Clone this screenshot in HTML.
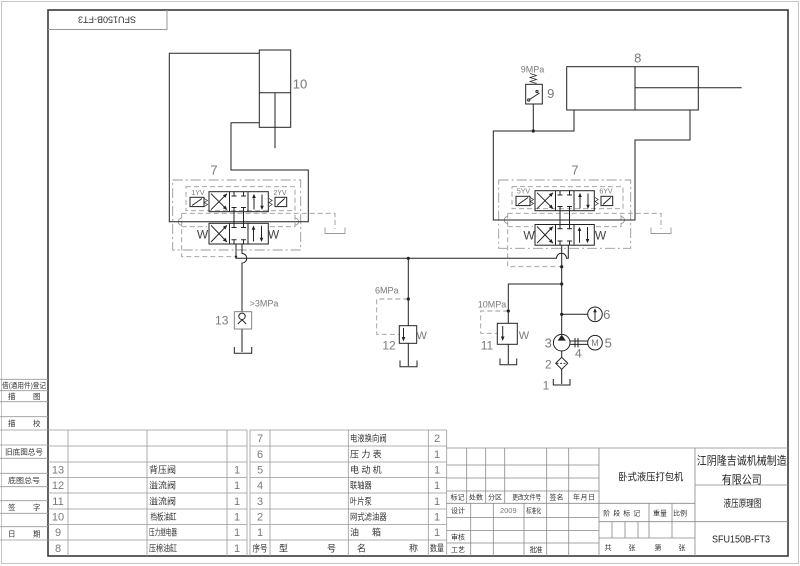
<!DOCTYPE html>
<html><head><meta charset="utf-8"><style>
html,body{margin:0;padding:0;background:#fff}
svg{display:block}
text{font-family:"Liberation Sans Narrow","Liberation Sans",sans-serif}
.g{fill:#7a7a7a}
.k{fill:#333}
.c{font-family:"Liberation Serif","Noto Serif CJK SC",serif;fill:#333}
</style></head><body>
<svg width="800" height="566" viewBox="0 0 800 566" xmlns="http://www.w3.org/2000/svg">
<rect x="0" y="0" width="800" height="566" fill="#fff"/>
<rect x="1.5" y="1.5" width="797" height="562" fill="none" stroke="#c4c4c4" stroke-width="1"/>
<rect x="48" y="10" width="740" height="546" fill="none" stroke="#3a3a3a" stroke-width="1.6"/>
<path d="M48,29.5 H167 V10" fill="none" stroke="#999"/>
<text x="107" y="22.7" transform="rotate(180 107 19.5)" text-anchor="middle" font-size="9" class="k">SFU150B-FT3</text>

<!-- left margin table -->
<path d="M0,379.3H48 M0,390.7H48 M0,401.7H48 M0,416.7H48 M0,430H48 M0,445H48 M0,458.3H48 M0,473.3H48 M0,486.7H48 M0,500.7H48 M0,513.3H48 M0,526.7H48 M0,540H48" stroke="#999" stroke-width="0.8" fill="none"/>
<g class="c" font-size="7.5">
<text x="2" y="387.8" textLength="44" lengthAdjust="spacingAndGlyphs">借(通用件)登记</text>
<text x="8" y="398.8">描</text><text x="33" y="398.8">图</text>
<text x="8" y="426">描</text><text x="33" y="426">校</text>
<text x="5" y="454.5" textLength="38" lengthAdjust="spacingAndGlyphs">旧底图总号</text>
<text x="8" y="482.8" textLength="32" lengthAdjust="spacingAndGlyphs">底图总号</text>
<text x="8" y="509.8">签</text><text x="33" y="509.8">字</text>
<text x="8" y="536.5">日</text><text x="33" y="536.5">期</text>
</g>

<!-- parts tables -->
<g stroke="#999" stroke-width="0.8" fill="none">
<path d="M48,430H247 M48,446H247 M48,462H247 M48,477.5H247 M48,493H247 M48,509H247 M48,524.5H247 M48,540H247"/>
<path d="M250,430H446.7 M250,446H446.7 M250,462H446.7 M250,477.5H446.7 M250,493H446.7 M250,509H446.7 M250,524.5H446.7 M250,540H446.7"/>
<path d="M68,430V556 M147,430V556 M227,430V556 M247,430V556 M250,430V556 M270,430V556 M348.3,430V556 M428.3,430V556 M446.7,430V556"/>
</g>
<g class="g" font-size="11" text-anchor="middle">
<text x="58" y="473.7">13</text><text x="58" y="489.2">12</text><text x="58" y="505">11</text>
<text x="58" y="520.7">10</text><text x="58" y="536.2">9</text><text x="58" y="552">8</text>
<text x="237" y="473.7">1</text><text x="237" y="489.2">1</text><text x="237" y="505">1</text>
<text x="237" y="520.7">1</text><text x="237" y="536.2">1</text><text x="237" y="552">1</text>
<text x="260" y="442">7</text><text x="260" y="458">6</text><text x="260" y="473.7">5</text>
<text x="260" y="489.2">4</text><text x="260" y="505">3</text><text x="260" y="520.7">2</text><text x="260" y="536.2">1</text>
<text x="437" y="442">2</text><text x="437" y="458">1</text><text x="437" y="473.7">1</text>
<text x="437" y="489.2">1</text><text x="437" y="505">1</text><text x="437" y="520.7">1</text><text x="437" y="536.2">1</text>
</g>
<g class="c" font-size="9">
<text x="149" y="473" textLength="27">背压阀</text>
<text x="149" y="488.5" textLength="27">溢流阀</text>
<text x="149" y="504.3" textLength="27">溢流阀</text>
<text x="150.5" y="520" textLength="26" lengthAdjust="spacingAndGlyphs">档板油缸</text>
<text x="149" y="535.5" textLength="28" lengthAdjust="spacingAndGlyphs">压力继电器</text>
<text x="149" y="551.3" textLength="28" lengthAdjust="spacingAndGlyphs">压棉油缸</text>
<text x="350" y="441.3" textLength="36.7" lengthAdjust="spacingAndGlyphs">电液换向阀</text>
<text x="350" y="457.3" textLength="31.7">压力表</text>
<text x="350" y="473" textLength="31.7">电动机</text>
<text x="350" y="488.5" textLength="21.7" lengthAdjust="spacingAndGlyphs">联轴器</text>
<text x="350" y="504.3" textLength="21.7" lengthAdjust="spacingAndGlyphs">叶片泵</text>
<text x="350" y="520" textLength="36.7" lengthAdjust="spacingAndGlyphs">网式滤油器</text>
<text x="350" y="535.5">油</text><text x="372" y="535.5">箱</text>
<text x="252.5" y="551.3" textLength="15" lengthAdjust="spacingAndGlyphs">序号</text>
<text x="279" y="551.3">型</text><text x="327" y="551.3">号</text>
<text x="357" y="551.3">名</text><text x="409" y="551.3">称</text>
<text x="430" y="551.3" textLength="14" lengthAdjust="spacingAndGlyphs">数量</text>
</g>

<!-- title block -->
<g stroke="#888" stroke-width="0.8" fill="none">
<path d="M446.7,448H788"/>
<path d="M446.7,465H599 M446.7,478H599 M446.7,491H599 M446.7,503.3H695 M446.7,517.5H599 M446.7,530.5H599 M446.7,543H599"/>
<path d="M466.7,448V503.3 M485.7,448V503.3 M504.7,448V503.3 M470.7,503.3V556 M493.3,503.3V556 M524,503.3V556 M546.7,448V556 M568.7,448V556 M599,448V556 M695,448V556"/>
<path d="M599,521.7H695 M599,538H695 M649,503.3V538 M672,503.3V538 M612,521.7V538 M625,521.7V538 M638,521.7V538"/>
<path d="M695,485H788 M695,521.7H788"/>
</g>
<g class="c" font-size="7" text-anchor="middle">
<text x="457.5" y="499.6" textLength="14">标记</text>
<text x="476" y="499.6" textLength="14">处数</text>
<text x="495" y="499.6" textLength="14">分区</text>
<text x="526.7" y="499.6" textLength="29" lengthAdjust="spacingAndGlyphs">更改文件号</text>
<text x="556.5" y="499.6" textLength="14">签名</text>
<text x="584" y="499.6" textLength="22">年月日</text>
<text x="458" y="513" textLength="14">设计</text>
<text x="533.8" y="513" textLength="15" lengthAdjust="spacingAndGlyphs">标准化</text>
<text x="458" y="539.4" textLength="14">审核</text>
<text x="458" y="552.1" textLength="14">工艺</text>
<text x="536" y="552.1" textLength="13">批准</text>
<text x="621.7" y="515.6" textLength="37">阶段标记</text>
<text x="660" y="515.6" textLength="14">重量</text>
<text x="680" y="515.6" textLength="14">比例</text>
<text x="608" y="550">共</text><text x="632" y="550">张</text>
<text x="658" y="550">第</text><text x="682" y="550">张</text>
</g>
<text x="508.3" y="513" font-size="7.5" class="g" text-anchor="middle">2009</text>
<g class="c" text-anchor="middle" style="fill:#222">
<text x="650.8" y="480.7" font-size="10" textLength="65" lengthAdjust="spacingAndGlyphs">卧式液压打包机</text>
<text x="741.7" y="464.3" font-size="11.5" textLength="90" lengthAdjust="spacingAndGlyphs">江阴隆吉诚机械制造</text>
<text x="741.7" y="483.3" font-size="11.5" textLength="40" lengthAdjust="spacingAndGlyphs">有限公司</text>
<text x="742.5" y="507.2" font-size="10" textLength="38" lengthAdjust="spacingAndGlyphs">液压原理图</text>
<text x="741" y="542.6" font-size="10" textLength="58" lengthAdjust="spacingAndGlyphs">SFU150B-FT3</text>
</g>

<!-- ===== VALVE LEFT ===== -->
<g id="valveL">
<g fill="none" stroke="#9a9a9a" stroke-width="0.9">
 <rect x="172.7" y="180" width="128" height="70" stroke-dasharray="10 3 2 3"/>
 <rect x="186" y="186.7" width="109" height="24" stroke-dasharray="5 3"/>
 <path d="M181.7,213.3 H335 V229" stroke-dasharray="5 3"/>
 <path d="M181.7,226.7 H207 M270,226.7 H295 V213.3" stroke-dasharray="5 3"/>
 <path d="M325,227.5 V233.5 H345 V227.5"/>
</g>
<g fill="none" stroke="#222" stroke-width="1">
 <rect x="190" y="197.3" width="14" height="9.3"/>
 <path d="M192,205.5 L202,198.5"/>
 <path d="M204.3,198.5 L207.5,200.5 L204.3,202.5 L207.5,204.5 L204.3,206.5" stroke-width="0.7"/>
 <rect x="209" y="191.7" width="59.3" height="20"/>
 <path d="M229.5,191.7V211.7 M248,191.7V211.7"/>
 <path d="M211,193.7 L227,209.7 M211,209.7 L227,193.7"/>
 <path d="M234,191.7V196 M231.5,196H236.5 M243.5,191.7V196 M241,196H246 M234,211.7V207.5 M231.5,207.5H236.5 M243.5,211.7V207.5 M241,207.5H246"/>
 <path d="M254,209.5V196 M262,194.5V208"/>
 <path d="M269,198.5 L272.2,200.5 L269,202.5 L272.2,204.5 L269,206.5" stroke-width="0.7"/>
 <rect x="275" y="197.3" width="11.7" height="9.3"/>
 <path d="M277,205.5 L284.7,198.5"/>
 <path d="M234,211.7V223.3 M243.5,211.7V223.3"/>
 <rect x="209" y="223.3" width="59.3" height="20.7"/>
 <path d="M229.5,223.3V244 M248,223.3V244"/>
 <path d="M211,225.3 L227,242 M211,242 L227,225.3"/>
 <path d="M234,223.3V227.5 M231.5,227.5H236.5 M243.5,223.3V227.5 M241,227.5H246 M234,244V239.8 M231.5,239.8H236.5 M243.5,244V239.8 M241,239.8H246"/>
 <path d="M253.5,241.5V227.5 M261.5,225.8V240"/>
</g>
<g fill="#222">
 <polygon points="227,193.7 225.6,197.9 222.8,195.1"/>
 <polygon points="227,209.7 225.6,205.5 222.8,208.3"/>
 <polygon points="254,193.8 252.2,198 255.8,198"/>
 <polygon points="262,210 260.2,205.8 263.8,205.8"/>
 <polygon points="227,225.3 225.6,229.5 222.8,226.7"/>
 <polygon points="227,242 225.6,237.8 222.8,240.6"/>
 <polygon points="253.5,225.5 251.7,229.7 255.3,229.7"/>
 <polygon points="261.5,242 259.7,237.8 263.3,237.8"/>
</g>
<text x="202.5" y="238.3" font-size="12" text-anchor="middle" fill="#444">W</text>
<text x="273.5" y="238.3" font-size="12" text-anchor="middle" fill="#444">W</text>
</g>
<text x="198" y="194.8" font-size="7" class="g" text-anchor="middle">1YV</text>
<text x="280" y="194.8" font-size="7" class="g" text-anchor="middle">2YV</text>
<text x="214" y="174.7" font-size="13" class="g" text-anchor="middle">7</text>

<!-- ===== VALVE RIGHT ===== -->
<g transform="translate(326,0)">
<g fill="none" stroke="#9a9a9a" stroke-width="0.9">
 <rect x="172.7" y="180" width="132" height="68.3" stroke-dasharray="10 3 2 3"/>
 <rect x="186" y="186.7" width="111" height="22" stroke-dasharray="5 3"/>
 <path d="M181.7,213.3 H335 V229" stroke-dasharray="5 3"/>
 <path d="M181.7,226.7 H207 M270,226.7 H295 V213.3" stroke-dasharray="5 3"/>
 <path d="M325,227.5 V233.5 H345 V227.5"/>
</g>
<g fill="none" stroke="#222" stroke-width="1">
 <rect x="190" y="196.3" width="14" height="9.3"/>
 <path d="M192,204.5 L202,197.5"/>
 <path d="M204.3,197.5 L207.5,199.5 L204.3,201.5 L207.5,203.5 L204.3,205.5" stroke-width="0.7"/>
 <rect x="209" y="190.7" width="59.3" height="20"/>
 <path d="M229.5,190.7V210.7 M248,190.7V210.7"/>
 <path d="M211,192.7 L227,208.7 M211,208.7 L227,192.7"/>
 <path d="M234,190.7V195 M231.5,195H236.5 M243.5,190.7V195 M241,195H246 M234,210.7V206.5 M231.5,206.5H236.5 M243.5,210.7V206.5 M241,206.5H246"/>
 <path d="M254,208.5V195 M262,193.5V207"/>
 <path d="M269,197.5 L272.2,199.5 L269,201.5 L272.2,203.5 L269,205.5" stroke-width="0.7"/>
 <rect x="275" y="196.3" width="11.7" height="9.3"/>
 <path d="M277,204.5 L284.7,197.5"/>
 <path d="M234,210.7V224.5 M243.5,210.7V224.5"/>
 <rect x="209" y="224.5" width="59.3" height="20.7"/>
 <path d="M229.5,224.5V245.2 M248,224.5V245.2"/>
 <path d="M211,226.5 L227,243.2 M211,243.2 L227,226.5"/>
 <path d="M234,224.5V228.7 M231.5,228.7H236.5 M243.5,224.5V228.7 M241,228.7H246 M234,245.2V241 M231.5,241H236.5 M243.5,245.2V241 M241,241H246"/>
 <path d="M253.5,242.7V228.7 M261.5,227V241.2"/>
</g>
<g fill="#222">
 <polygon points="227,192.7 225.6,196.9 222.8,194.1"/>
 <polygon points="227,208.7 225.6,204.5 222.8,207.3"/>
 <polygon points="254,192.8 252.2,197 255.8,197"/>
 <polygon points="262,209 260.2,204.8 263.8,204.8"/>
 <polygon points="227,226.5 225.6,230.7 222.8,227.9"/>
 <polygon points="227,243.2 225.6,239 222.8,241.8"/>
 <polygon points="253.5,226.7 251.7,230.9 255.3,230.9"/>
 <polygon points="261.5,243.2 259.7,239 263.3,239"/>
</g>
<text x="203" y="239.5" font-size="12" text-anchor="middle" fill="#444">W</text>
<text x="274.5" y="239.5" font-size="12" text-anchor="middle" fill="#444">W</text>
</g>
<text x="523.5" y="193.5" font-size="7" class="g" text-anchor="middle">5YV</text>
<text x="606" y="193.5" font-size="7" class="g" text-anchor="middle">6YV</text>
<text x="575" y="174.7" font-size="13" class="g" text-anchor="middle">7</text>

<!-- dashed pilot bottoms & hops -->
<g fill="none" stroke="#9a9a9a" stroke-width="0.9">
 <path d="M181.7,213.3 V256.7 H236" stroke-dasharray="5 3"/>
 <path d="M507.7,213.3 V266.7 H561.7" stroke-dasharray="5 3"/>
 <path d="M181.7,218.2 A3.5,3.5 0 0 0 181.7,225.2 M295,218.2 A3.5,3.5 0 0 1 295,225.2"/>
 <path d="M507.7,216.5 A3.5,3.5 0 0 0 507.7,223.5 M621,216.5 A3.5,3.5 0 0 1 621,223.5"/>
 <path d="M408.3,299H376.7V334.3H399.3" stroke-dasharray="5 3"/>
 <path d="M508.3,311H480.7V333.3H497.3" stroke-dasharray="5 3"/>
</g>

<!-- ===== MAIN CIRCUIT ===== -->
<g fill="none" stroke="#222" stroke-width="1">
 <!-- cylinder 10 -->
 <rect x="259.3" y="50" width="31.4" height="77.3"/>
 <path d="M259.3,92.7H290.7 M275,92.7V148.3"/>
 <path d="M259.3,53.3H169.3V221.7H308.3V170H231V122.7H259.3"/>
 <!-- main pressure line -->
 <path d="M236,244V258.3H556.5 A5,5 0 0 1 566.5,258.3 H568.3V245"/>
 <!-- return to 13 -->
 <path d="M242,244V253.5 A4.8,4.8 0 0 1 242,263.1 V311.7 M242,329 V352"/>
 <path d="M234.3,347V353.3H251.7V347"/>
 <path d="M237.8,324 L242,319.8 L246.2,324"/>
 <circle cx="242" cy="316.3" r="3.2"/>
 <!-- relief 12 -->
 <path d="M408.3,258.3V325.7 M408.3,343.3V366"/>
 <rect x="399.3" y="325.7" width="17.4" height="17.6"/>
 <path d="M400,360.5V366.7H417V360.5"/>
 <path d="M403.5,328V338"/>
 <!-- relief 11 -->
 <path d="M561.7,284H508.3V323.3 M508.3,344.3V364"/>
 <rect x="497.3" y="323.3" width="20" height="21"/>
 <path d="M500,358.5V364.7H516.7V358.5"/>
 <path d="M502.7,326V337"/>
 <!-- pump line -->
 <path d="M561.7,245.2V334.4"/>
 <circle cx="561.7" cy="342.7" r="8.3"/>
 <path d="M570,341H587.7 M570,344.4H587.7 M575,338V347.4 M578,338V347.4"/>
 <circle cx="595" cy="342.7" r="7.3"/>
 <path d="M561.7,351V357.3"/>
 <polygon points="561.7,357.3 567.7,363.3 561.7,369.3 555.7,363.3"/>
 <path d="M556.5,363.3H567" stroke-dasharray="2 1.5" stroke-width="0.8"/>
 <path d="M561.7,369.3V384"/>
 <path d="M553.3,379V385H570V379"/>
 <!-- gauge -->
 <path d="M561.7,314.3H587.7"/>
 <circle cx="595" cy="314.3" r="7.3"/>
 <path d="M595,320.5V311"/>
 <!-- cylinder 8 -->
 <rect x="566.7" y="66.7" width="131.6" height="43.3"/>
 <path d="M635,66.7V110 M635,87.7H741.7"/>
 <path d="M574,110V131H493.3V220H635V140H690V110"/>
 <!-- relay 9 -->
 <rect x="525.7" y="84.3" width="16.6" height="19.7"/>
 <path d="M533.3,104V131"/>
 <path d="M530,73.5 L536.5,75.5 L530,77.5 L536.5,79.5 L530,81.5 L536.5,83.5" stroke-width="0.7"/>
 <path d="M529.5,99.5 L539.5,93"/>
 <circle cx="528.7" cy="100" r="1.1"/>
 <circle cx="537" cy="91.5" r="1.1"/>
</g>
<g fill="#222">
 <polygon points="403.5,341.5 401.7,337 405.3,337"/>
 <polygon points="502.7,341 500.9,336.5 504.5,336.5"/>
 <polygon points="561.7,334.6 557.6,340.6 565.8,340.6"/>
 <polygon points="595,308.2 593.2,312.2 596.8,312.2"/>
 <circle cx="408.3" cy="258.3" r="1.6"/>
 <circle cx="408.3" cy="299" r="1.6"/>
 <circle cx="561.7" cy="266.7" r="1.6"/>
 <circle cx="561.7" cy="284" r="1.6"/>
 <circle cx="561.7" cy="314.3" r="1.6"/>
 <circle cx="508.3" cy="311" r="1.6"/>
 <circle cx="533.3" cy="131" r="1.6"/>
 <circle cx="236" cy="256.7" r="1.2"/>
</g>
<rect x="234.3" y="311.7" width="17.4" height="17.3" fill="none" stroke="#777" stroke-width="0.9"/>

<!-- drawing labels -->
<g class="g" text-anchor="middle">
<text x="300" y="88.7" font-size="13">10</text>
<text x="264" y="306.3" font-size="9">&gt;3MPa</text>
<text x="221.7" y="324.3" font-size="12">13</text>
<text x="386.7" y="293.3" font-size="9">6MPa</text>
<text x="389" y="349.3" font-size="12">12</text>
<text x="421.7" y="339" font-size="11">W</text>
<text x="492" y="307.6" font-size="9">10MPa</text>
<text x="487" y="349.3" font-size="12">11</text>
<text x="524" y="339" font-size="11">W</text>
<text x="606.7" y="319" font-size="13">6</text>
<text x="548.3" y="347.4" font-size="13">3</text>
<text x="578.3" y="357.6" font-size="12">4</text>
<text x="608.3" y="347.4" font-size="13">5</text>
<text x="595" y="346" font-size="9">M</text>
<text x="548.3" y="368.6" font-size="12">2</text>
<text x="546" y="389.3" font-size="12">1</text>
<text x="532.5" y="72.3" font-size="9">9MPa</text>
<text x="550.7" y="98" font-size="13">9</text>
<text x="637.7" y="62.4" font-size="13">8</text>
</g>
</svg>
</body></html>
